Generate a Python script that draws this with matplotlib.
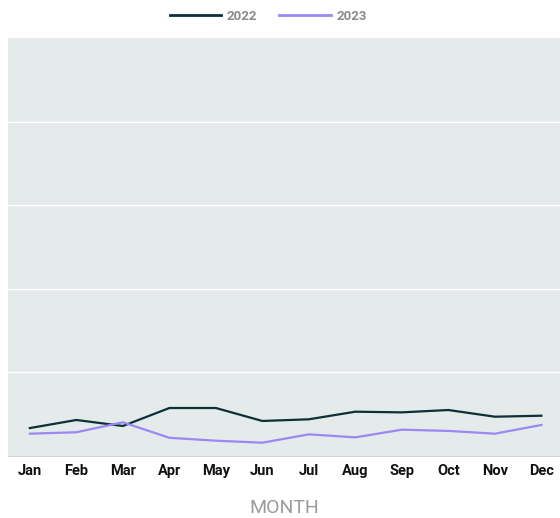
import matplotlib.pyplot as plt
from matplotlib.lines import Line2D

months = ['Jan', 'Feb', 'Mar', 'Apr', 'May', 'Jun', 'Jul', 'Aug', 'Sep', 'Oct', 'Nov', 'Dec']
sales_2022 = [3.34, 4.31, 3.59, 5.74, 5.74, 4.19, 4.39, 5.30, 5.22, 5.50, 4.70, 4.82]
sales_2023 = [2.67, 2.84, 4.03, 2.18, 1.83, 1.59, 2.59, 2.23, 3.15, 3.00, 2.67, 3.71]

c22 = '#0b3038'
c23 = '#9b87f5'

plt.rcParams['font.family'] = ['Roboto', 'DejaVu Sans']

fig = plt.figure(figsize=(5.6, 5.18), dpi=100)
ax = fig.add_axes([8/560, 62/518, 552/560, 418/518])
ax.set_facecolor('#e5ebea')

x = range(len(months))
ax.plot(x, sales_2022, color=c22, lw=1.6, zorder=3)
ax.plot(x, sales_2023, color=c23, lw=1.6, zorder=3)

ax.set_ylim(0, 50)
ax.set_xlim(-0.47, 11.4)
ax.set_yticks([10, 20, 30, 40])
ax.set_yticklabels([])
ax.tick_params(axis='y', length=0)
ax.grid(axis='y', color='white', lw=1)
ax.set_axisbelow(True)

ax.set_xticks(list(x))
ax.set_xticklabels(months, fontsize=10.5, fontweight='bold', color='#111111')
ax.tick_params(axis='x', length=0, pad=6)

for s in ['top', 'right', 'left']:
    ax.spines[s].set_visible(False)
ax.spines['bottom'].set_color('#d0d5d5')

ax.set_xlabel('MONTH', fontsize=14, color='#9a9a9a', labelpad=15)

handles = [Line2D([], [], color=c22, lw=2), Line2D([], [], color=c23, lw=2)]
leg = fig.legend(handles, ['2022', '2023'], loc='center', bbox_to_anchor=(268/560, 1 - 16/518),
                 ncol=2, frameon=False, handlelength=3.9, columnspacing=1.7,
                 handletextpad=0.4, prop={'size': 9.5, 'weight': 'bold'})
for t in leg.get_texts():
    t.set_color('#8a8a8a')

fig.savefig('out.png', dpi=100)
